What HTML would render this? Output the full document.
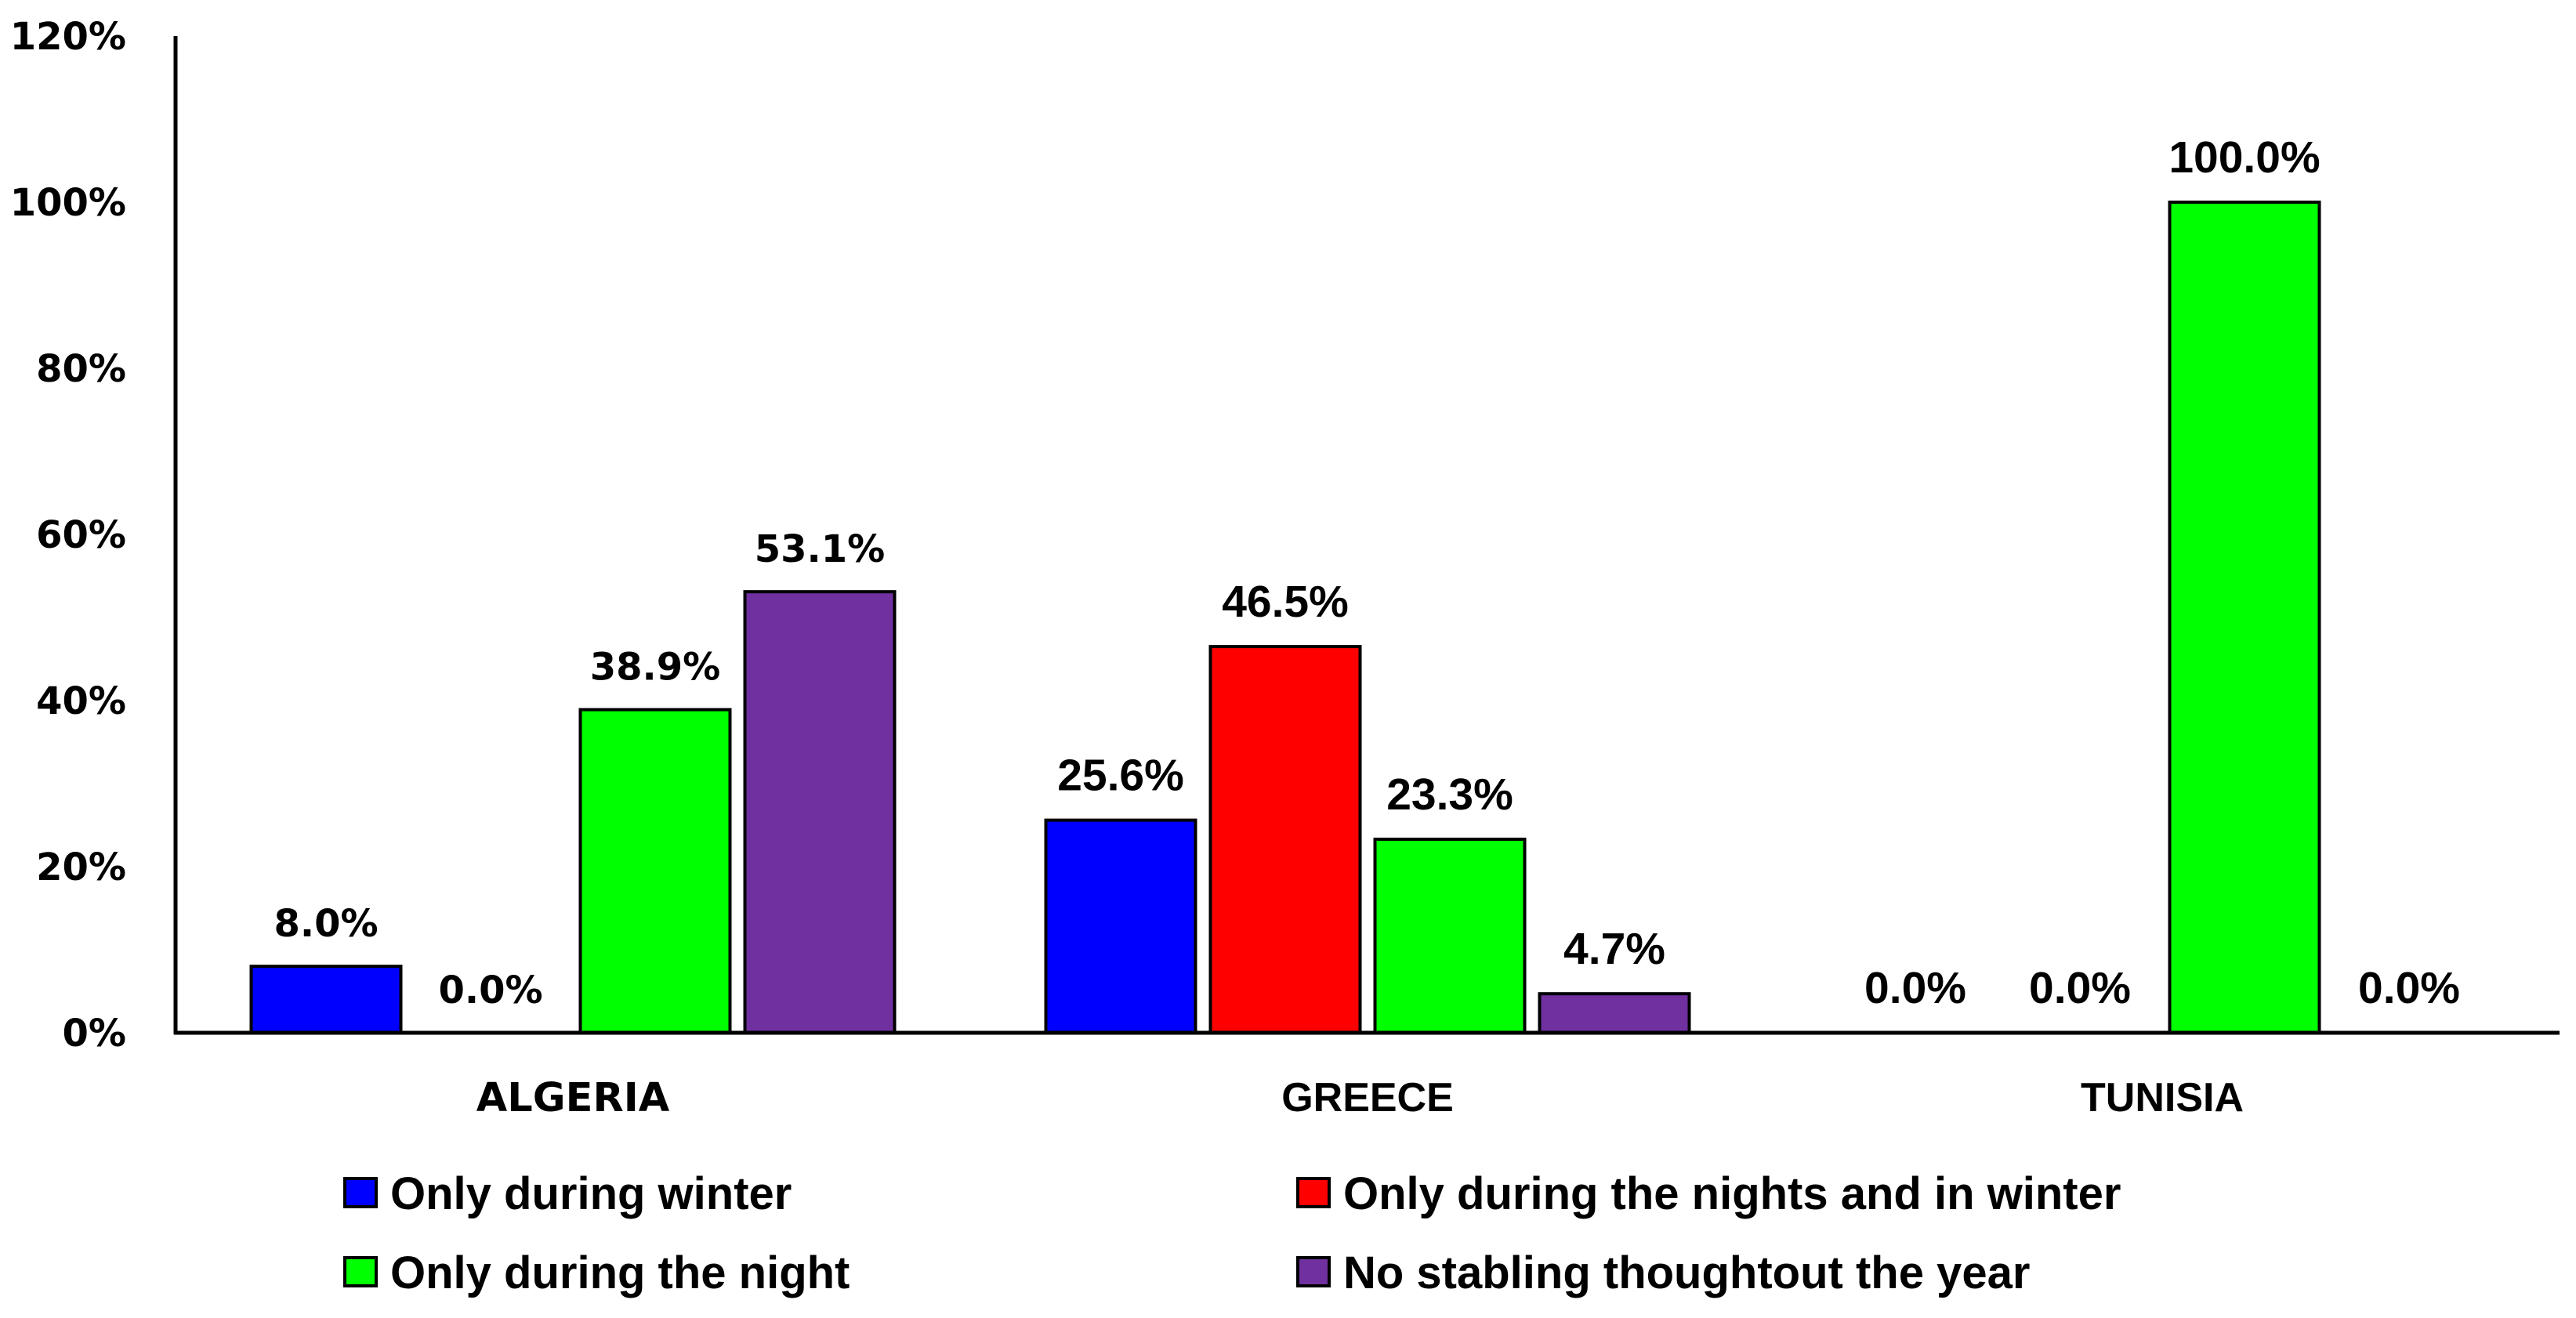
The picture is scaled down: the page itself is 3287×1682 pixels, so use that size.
<!DOCTYPE html>
<html><head><meta charset="utf-8"><style>
html,body{margin:0;padding:0;background:#fff;}
svg{display:block;}
.dv{font-family:"DejaVu Sans","Liberation Sans",sans-serif;font-weight:bold;}
.lb{font-family:"Liberation Sans",sans-serif;font-weight:bold;}
</style></head><body>
<svg id="chart" width="3287" height="1682" xmlns="http://www.w3.org/2000/svg"></svg>
<script>
const categories = ["ALGERIA","GREECE","TUNISIA"];
const seriesNames = ["Only during winter","Only during the nights and in winter","Only during the night","No stabling thoughtout the year"];
const seriesColors = ["#0000ff","#ff0000","#00ff00","#7030a0"];
const winter = [8.0, 25.6, 0.0];
const nightsWinter = [0.0, 46.5, 0.0];
const night = [38.9, 23.3, 100.0];
const noStabling = [53.1, 4.7, 0.0];
const yTicks = [0,20,40,60,80,100,120];

const series = [winter, nightsWinter, night, noStabling];
const svg = document.getElementById('chart');
const NS = "http://www.w3.org/2000/svg";
const X0 = 224, X1 = 3266, Y0 = 1318, YTOP = 46;
const yScale = v => Y0 - (v/120)*(Y0-YTOP);
const catW = (X1 - X0)/categories.length;
const catCenter = i => X0 + catW*(i+0.5);
const barW = 191, step = 210;
const barX = (ci, si) => catCenter(ci) - 2*step + (step-barW)/2 + si*step;

function mk(tag, attrs, text){
  const e = document.createElementNS(NS, tag);
  for (const k in attrs) e.setAttribute(k, attrs[k]);
  if (text !== undefined) e.textContent = text;
  svg.appendChild(e);
  return e;
}

yTicks.forEach(t => {
  const e = mk('text', {x:161, y:yScale(t)+17, 'text-anchor':'end', 'font-size':48, class:'dv'}, t+'%');
  
  
});

series.forEach((vals, si) => {
  vals.forEach((v, ci) => {
    const x = barX(ci, si), y = yScale(v);
    if (v > 0) {
      const r = mk('rect', {x:x, y:y, width:barW, height:Y0-y, fill:seriesColors[si], stroke:'#000', 'stroke-width':4});
      
      
    }
    const cls = ci === 0 ? 'dv' : 'lb';
    const fs = ci === 0 ? 48 : 57;
    const t = mk('text', {x:x+barW/2, y:y-38, 'text-anchor':'middle', 'font-size':fs, class:cls}, v.toFixed(1)+'%');
    
    
  });
});

const ya = mk('line', {x1:X0, y1:YTOP, x2:X0, y2:Y0+2, stroke:'#000', 'stroke-width':5});


const xa = mk('line', {x1:X0-2, y1:Y0, x2:X1, y2:Y0, stroke:'#000', 'stroke-width':5});



categories.forEach((c, ci) => {
  const cls = ci === 0 ? 'dv' : 'lb';
  const fs = ci === 0 ? 51 : 52;
  const t = mk('text', {x:catCenter(ci), y:1418, 'text-anchor':'middle', 'font-size':fs, class:cls}, c);
  
  
});

const legPos = [[440,1524],[1656,1524],[440,1625],[1656,1625]];
seriesNames.forEach((n, si) => {
  const [lx, ly] = legPos[si];
  const b = mk('rect', {x:lx, y:ly-20, width:40, height:36, fill:seriesColors[si], stroke:'#000', 'stroke-width':4});
  
  
  const t = mk('text', {x:lx+58, y:ly+19, 'font-size':58, class:'lb'}, n);
  
  
});
</script>
</body></html>
